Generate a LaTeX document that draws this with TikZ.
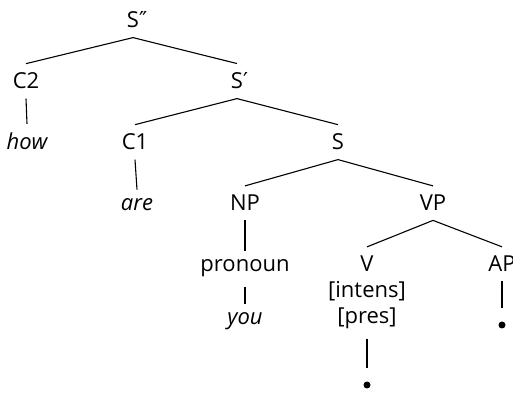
\documentclass[tikz,border=0pt]{standalone}
\usepackage{fontspec}
\setmainfont{Open Sans}
\newfontfamily\primefont{DejaVu Sans}
\usetikzlibrary{positioning}
\begin{document}
\begin{tikzpicture}[x=0.5pt,y=-0.5pt,font=\fontsize{11}{13}\selectfont,
  lbl/.style={inner xsep=0pt,inner ysep=4.5pt,anchor=base},
  word/.style={lbl,font=\fontsize{11}{13}\selectfont\itshape},
  dotn/.style={circle,fill,inner sep=0pt,minimum size=3.5pt,outer sep=6.5pt},
  br/.style={line width=0.55pt}]
\useasboundingbox (0,0) rectangle (513,394);
\node[lbl] (sdp)  at (133,28)  {S\rlap{\primefont ″}};
\node[lbl] (ctwo) at (26,89)   {C2};
\node[lbl] (sp)   at (237,89)  {S\rlap{\primefont ′}};
\node[word] (how) at (27,150)  {how};
\node[lbl] (cone) at (135,150) {C1};
\node[lbl] (s)    at (338,150) {S};
\node[word] (are) at (137,211) {are};
\node[lbl] (np)   at (245,211) {NP};
\node[lbl] (vp)   at (433,211) {VP};
\node[lbl] (pron) at (245,272) {pronoun};
\node[lbl] (v)    at (367,272) {V};
\node[lbl] (ap)   at (502,272) {AP};
\node[lbl] (int)  at (367,298) {[intens]};
\node[lbl] (pres) at (367,324) {[pres]};
\node[word] (you) at (245,325) {you};
\node[dotn] (dap) at (502,325) {};
\node[dotn] (dv)  at (367,385) {};
\foreach \a/\b in {sdp/ctwo,sdp/sp,ctwo/how,sp/cone,sp/s,cone/are,s/np,s/vp,
  np/pron,pron/you,vp/v,vp/ap,ap/dap,pres/dv}
  \draw[br] (\a.south) -- (\b.north);
\end{tikzpicture}
\end{document}
